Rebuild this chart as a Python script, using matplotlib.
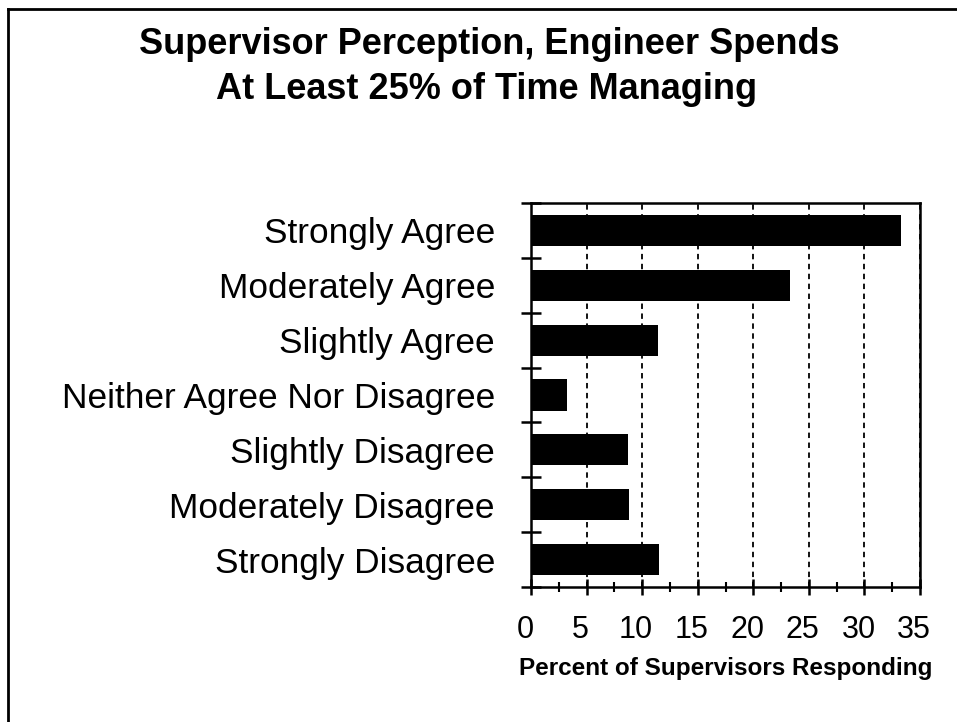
import matplotlib
matplotlib.use("Agg")
import matplotlib.pyplot as plt
from matplotlib.ticker import MultipleLocator, FixedLocator
import matplotlib.transforms as mtransforms
from matplotlib.lines import Line2D

categories = ["Strongly Agree", "Moderately Agree", "Slightly Agree",
              "Neither Agree Nor Disagree", "Slightly Disagree",
              "Moderately Disagree", "Strongly Disagree"]
values = [33.3, 23.3, 11.4, 3.2, 8.7, 8.8, 11.5]
x_ticks = [0, 5, 10, 15, 20, 25, 30, 35]
title_lines = ["Supervisor Perception, Engineer Spends", "At Least 25% of Time Managing"]
xlabel = "Percent of Supervisors Responding"

plt.rcParams['font.family'] = ['Liberation Sans', 'DejaVu Sans']

W, H = 957, 722
fig = plt.figure(figsize=(W / 100, H / 100), dpi=100)
fig.patch.set_facecolor('white')

ax = fig.add_axes([531 / W, 135 / H, (920 - 531) / W, (587 - 203) / H])
ypos = list(range(len(categories)))
ax.barh(ypos, values, height=0.57, color='black', zorder=3)
ax.set_ylim(len(categories) - 0.5, -0.5)
ax.set_xlim(0, 35)

ax.set_yticks(ypos)
ax.set_yticklabels(categories, fontsize=25.4)
ax.yaxis.set_minor_locator(FixedLocator([i - 0.5 for i in range(len(categories) + 1)]))
ax.tick_params(axis='y', which='major', length=0, pad=26)
ax.tick_params(axis='y', which='minor', direction='inout', length=14, width=1.8)

ax.set_xticks(x_ticks)
ax.set_xticklabels([str(t) for t in x_ticks], fontsize=22)
ax.xaxis.set_minor_locator(MultipleLocator(2.5))
ax.tick_params(axis='x', which='major', direction='inout', length=12, width=1.8, pad=14)
ax.tick_params(axis='x', which='minor', direction='inout', length=7, width=1.5)
offset = mtransforms.ScaledTranslation(-6 / 100, 0, fig.dpi_scale_trans)
for lab in ax.get_xticklabels():
    lab.set_transform(lab.get_transform() + offset)

ax.set_xlabel(xlabel, fontsize=17.5, fontweight='bold', labelpad=9)

ax.xaxis.grid(True, which='major', linestyle=(0, (3, 2.5)), color='black', linewidth=1.3, zorder=1)
ax.set_axisbelow(True)
for sp in ax.spines.values():
    sp.set_linewidth(1.8)
    sp.set_color('black')

fig.text(489 / W, 1 - 54 / H, title_lines[0], ha='center', va='baseline', fontsize=26,
         fontweight='bold')
fig.text(487 / W, 1 - 99 / H, title_lines[1], ha='center', va='baseline', fontsize=26,
         fontweight='bold')

# page frame (top and left edges)
fig.add_artist(Line2D([8 / W, 1.0], [1 - 9 / H, 1 - 9 / H], transform=fig.transFigure,
                      color='black', linewidth=2))
fig.add_artist(Line2D([8 / W, 8 / W], [0, 1 - 9 / H], transform=fig.transFigure,
                      color='black', linewidth=2))

fig.savefig("out.png", dpi=100, facecolor='white')
